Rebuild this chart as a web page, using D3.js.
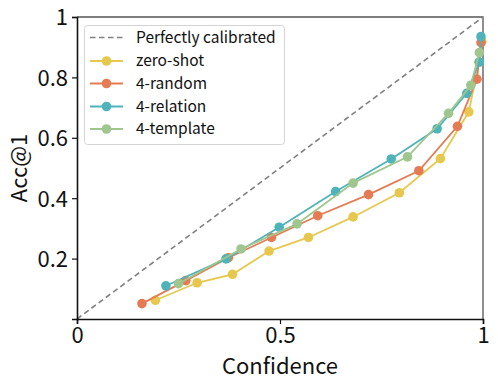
<!DOCTYPE html>
<html>
<head>
<meta charset="utf-8">
<script src="https://cdn.jsdelivr.net/npm/d3@7"></script>
<style>
  html, body { margin: 0; padding: 0; background: #fff; }
  svg { display: block; font-family: "Noto Sans CJK JP", "Noto Sans", sans-serif; }
</style>
</head>
<body>
<div id="chart"></div>
<script>
(function () {
  "use strict";

  // reliability diagram data: [confidence, accuracy]
  var zeroShot = [[0.193, 0.062], [0.296, 0.120], [0.383, 0.148], [0.473, 0.225], [0.570, 0.270],
    [0.680, 0.338], [0.794, 0.418], [0.895, 0.531], [0.965, 0.686], [0.990, 0.850], [0.997, 0.920]];
  var random4 = [[0.160, 0.051], [0.268, 0.127], [0.373, 0.203], [0.479, 0.270], [0.593, 0.342],
    [0.718, 0.412], [0.842, 0.491], [0.937, 0.638], [0.985, 0.794], [0.995, 0.915]];
  var relation4 = [[0.219, 0.110], [0.367, 0.199], [0.498, 0.304], [0.637, 0.422], [0.774, 0.530],
    [0.887, 0.630], [0.960, 0.747], [0.991, 0.851], [0.995, 0.935]];
  var template4 = [[0.250, 0.117], [0.404, 0.232], [0.542, 0.315], [0.680, 0.450], [0.814, 0.537],
    [0.915, 0.681], [0.970, 0.774], [0.991, 0.882]];

  var seriesNames = ["zero-shot", "4-random", "4-relation", "4-template"];
  var seriesData = [zeroShot, random4, relation4, template4];
  var seriesColors = ["#e6c84e", "#e57b52", "#4fb4ba", "#a0c68f"];

  var xTicks = [0, 0.5, 1];
  var xTickLabels = ["0", "0.5", "1"];
  var yTicks = [0.2, 0.4, 0.6, 0.8, 1];
  var yTickLabels = ["0.2", "0.4", "0.6", "0.8", "1"];

  var width = 498, height = 383;
  var margin = { left: 77, right: 15, top: 17, bottom: 64 };

  var x = d3.scaleLinear().domain([0, 1]).range([margin.left, width - margin.right]);
  var y = d3.scaleLinear().domain([0, 1]).range([height - margin.bottom, margin.top]);

  var svg = d3.select("#chart").append("svg")
    .attr("width", width)
    .attr("height", height);

  // top & right frame
  svg.append("path")
    .attr("d", "M" + x(0) + "," + y(1) + "H" + x(1) + "V" + y(0))
    .attr("fill", "none")
    .attr("stroke", "#555")
    .attr("stroke-width", 1.3);

  // perfectly calibrated diagonal
  svg.append("line")
    .attr("x1", x(0)).attr("y1", y(0))
    .attr("x2", x(1)).attr("y2", y(1))
    .attr("stroke", "#808080")
    .attr("stroke-width", 1.6)
    .attr("stroke-dasharray", "5.5,3.5");

  var line = d3.line()
    .x(function (d) { return x(d[0]); })
    .y(function (d) { return y(d[1]); });

  seriesData.forEach(function (data, i) {
    var g = svg.append("g");
    g.append("path")
      .datum(data)
      .attr("d", line)
      .attr("fill", "none")
      .attr("stroke", seriesColors[i])
      .attr("stroke-width", 1.8);
    g.selectAll("circle")
      .data(data)
      .join("circle")
      .attr("cx", function (d) { return x(d[0]); })
      .attr("cy", function (d) { return y(d[1]); })
      .attr("r", 4.8)
      .attr("fill", seriesColors[i]);
  });

  // axes
  var xAxis = d3.axisBottom(x).tickValues(xTicks)
    .tickFormat(function (d, i) { return xTickLabels[i]; })
    .tickSize(5).tickPadding(4);
  var yAxis = d3.axisLeft(y).tickValues(yTicks)
    .tickFormat(function (d, i) { return yTickLabels[i]; })
    .tickSize(5).tickPadding(4);

  var gx = svg.append("g")
    .attr("transform", "translate(0," + y(0) + ")")
    .call(xAxis);
  var gy = svg.append("g")
    .attr("transform", "translate(" + x(0) + ",0)")
    .call(yAxis);

  [gx, gy].forEach(function (g) {
    g.select(".domain").attr("stroke", "#111").attr("stroke-width", 1.6);
    g.selectAll(".tick line").attr("stroke", "#111").attr("stroke-width", 1.2);
    g.selectAll(".tick text")
      .attr("fill", "#111")
      .style("font-family", "'Noto Sans CJK JP', 'Noto Sans', sans-serif")
      .style("font-size", "22px");
  });
  gx.selectAll(".tick text").attr("dy", "0.7em");
  gy.selectAll(".tick text").attr("dy", "0.36em");

  svg.append("text")
    .attr("x", x(0.5))
    .attr("y", 374)
    .attr("text-anchor", "middle")
    .attr("font-size", 22)
    .attr("fill", "#111")
    .text("Confidence");

  svg.append("text")
    .attr("transform", "translate(27," + y(0.5) + ") rotate(-90)")
    .attr("text-anchor", "middle")
    .attr("font-size", 22)
    .attr("fill", "#111")
    .text("Acc@1");

  // legend
  var legend = svg.append("g").attr("transform", "translate(84,25)");
  legend.append("rect")
    .attr("x", 0.5).attr("y", 0.5)
    .attr("width", 200).attr("height", 119)
    .attr("rx", 3)
    .attr("fill", "#fff")
    .attr("fill-opacity", 0.85)
    .attr("stroke", "#d4d4d4");

  var rowY = [12.5, 36, 58.5, 81.5, 104];
  var legendLabels = ["Perfectly calibrated"].concat(seriesNames);
  legendLabels.forEach(function (label, i) {
    var row = legend.append("g").attr("transform", "translate(0," + rowY[i] + ")");
    if (i === 0) {
      row.append("line")
        .attr("x1", 6).attr("x2", 39)
        .attr("stroke", "#808080")
        .attr("stroke-width", 1.6)
        .attr("stroke-dasharray", "5.5,3.5");
    } else {
      row.append("line")
        .attr("x1", 6).attr("x2", 39)
        .attr("stroke", seriesColors[i - 1])
        .attr("stroke-width", 1.8);
      row.append("circle")
        .attr("cx", 22.5).attr("r", 4.8)
        .attr("fill", seriesColors[i - 1]);
    }
    row.append("text")
      .attr("x", 52)
      .attr("dy", "0.35em")
      .attr("font-size", 15.5)
      .attr("fill", "#111")
      .text(label);
  });
})();
</script>
</body>
</html>
